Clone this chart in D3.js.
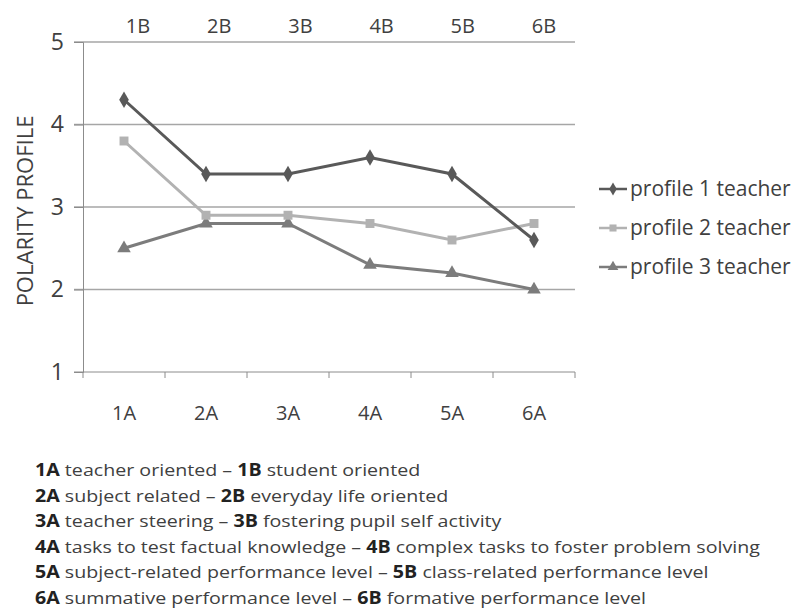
<!DOCTYPE html>
<html>
<head>
<meta charset="utf-8">
<script src="https://cdn.jsdelivr.net/npm/d3@7"></script>
<style>
  body { margin: 0; background: #fff; }
  text { font-family: "Open Sans", sans-serif; fill: #404040; }
</style>
</head>
<body>
<div id="chart"></div>
<script>
const categories = ["1A", "2A", "3A", "4A", "5A", "6A"];
const topLabels = ["1B", "2B", "3B", "4B", "5B", "6B"];
const yTicks = [1, 2, 3, 4, 5];
const profile1 = [4.3, 3.4, 3.4, 3.6, 3.4, 2.6];
const profile2 = [3.8, 2.9, 2.9, 2.8, 2.6, 2.8];
const profile3 = [2.5, 2.8, 2.8, 2.3, 2.2, 2.0];
const seriesNames = ["profile 1 teacher", "profile 2 teacher", "profile 3 teacher"];
const notes = [
  ["1A", " teacher oriented \u2013 ", "1B", " student oriented"],
  ["2A", " subject related \u2013 ", "2B", " everyday life oriented"],
  ["3A", " teacher steering \u2013 ", "3B", " fostering pupil self activity"],
  ["4A", " tasks to test factual knowledge \u2013 ", "4B", " complex tasks to foster problem solving"],
  ["5A", " subject-related  performance  level \u2013 ", "5B", " class-related  performance  level"],
  ["6A", " summative performance  level \u2013 ", "6B", " formative performance  level"]
];

const width = 803, height = 613;
const margin = {top: 42, right: 228, bottom: 241, left: 83};

const svg = d3.select("#chart").append("svg")
  .attr("width", width)
  .attr("height", height);

const x = d3.scaleBand()
  .domain(categories)
  .range([margin.left, width - margin.right]);

const y = d3.scaleLinear()
  .domain([1, 5])
  .range([height - margin.bottom, margin.top]);

const xTop = d3.scalePoint()
  .domain(topLabels)
  .range([138, 544]);

// gridlines
svg.append("g")
  .selectAll("line")
  .data(yTicks.filter(d => d > 1))
  .join("line")
    .attr("x1", margin.left - 9)
    .attr("x2", width - margin.right)
    .attr("y1", d => y(d))
    .attr("y2", d => y(d))
    .attr("stroke", "#a6a6a6")
    .attr("stroke-width", 1.3);

// y axis
const yAxis = svg.append("g")
  .attr("transform", `translate(${margin.left},0)`)
  .call(d3.axisLeft(y).tickValues(yTicks).tickFormat(d3.format("d")).tickSize(9).tickPadding(10));
yAxis.select(".domain").attr("stroke", "#8c8c8c");
yAxis.selectAll(".tick line").attr("stroke", "#8c8c8c");
yAxis.selectAll("text").style("font-size", "23px").attr("fill", "#404040");

// x axis with ticks between categories
const xAxis = svg.append("g")
  .attr("transform", `translate(0,${y(1)})`);
xAxis.append("line")
  .attr("x1", x.range()[0] - 9).attr("x2", x.range()[1])
  .attr("stroke", "#8c8c8c");
xAxis.selectAll(".tk")
  .data(categories.concat(["end"]))
  .join("line")
    .attr("class", "tk")
    .attr("x1", (d, i) => x.range()[0] + i * x.step())
    .attr("x2", (d, i) => x.range()[0] + i * x.step())
    .attr("y1", 0).attr("y2", 6)
    .attr("stroke", "#8c8c8c");
xAxis.selectAll("text")
  .data(categories)
  .join("text")
    .attr("x", d => x(d) + x.bandwidth() / 2)
    .attr("y", 48)
    .attr("text-anchor", "middle")
    .style("font-size", "20px")
    .text(d => d);

// top labels
svg.append("g")
  .selectAll("text")
  .data(topLabels)
  .join("text")
    .attr("x", d => xTop(d))
    .attr("y", 33)
    .attr("text-anchor", "middle")
    .style("font-size", "20px")
    .text(d => d);

// y title
svg.append("text")
  .attr("transform", `translate(33,${(y(1) + y(5)) / 2 + 4}) rotate(-90)`)
  .attr("text-anchor", "middle")
  .style("font-size", "22px")
  .text("POLARITY PROFILE");

const series = [
  {name: seriesNames[0], values: profile1, color: "#595959", symbol: d3.symbolDiamond, size: 80},
  {name: seriesNames[1], values: profile2, color: "#b2b2b2", symbol: d3.symbolSquare, size: 80},
  {name: seriesNames[2], values: profile3, color: "#7c7c7c", symbol: d3.symbolTriangle, size: 80}
];

const line = d3.line()
  .x((d, i) => x(categories[i]) + x.bandwidth() / 2)
  .y(d => y(d));

const g = svg.append("g");
series.slice().reverse().forEach(s => {
  g.append("path")
    .datum(s.values)
    .attr("fill", "none")
    .attr("stroke", s.color)
    .attr("stroke-width", 3)
    .attr("d", line);
  g.selectAll(null)
    .data(s.values)
    .join("path")
      .attr("transform", (d, i) => `translate(${x(categories[i]) + x.bandwidth() / 2},${y(d)})`)
      .attr("d", d3.symbol().type(s.symbol).size(s.size))
      .attr("fill", s.color);
});

// legend
const legend = svg.append("g");
series.forEach((s, i) => {
  const ly = 189 + i * 39;
  legend.append("line")
    .attr("x1", 599).attr("x2", 627)
    .attr("y1", ly).attr("y2", ly)
    .attr("stroke", s.color).attr("stroke-width", 2.5);
  legend.append("path")
    .attr("transform", `translate(613,${ly})`)
    .attr("d", d3.symbol().type(s.symbol).size(50))
    .attr("fill", s.color);
  legend.append("text")
    .attr("x", 630).attr("y", ly + 7)
    .style("font-size", "21px")
    .text(s.name);
});

// notes below chart
const noteG = svg.append("g");
notes.forEach((n, i) => {
  const t = noteG.append("text")
    .attr("x", 35)
    .attr("y", 476 + i * 25.6)
    .style("font-size", "17px");
  n.forEach((part, j) => {
    t.append("tspan")
      .attr("font-weight", j % 2 === 0 ? "bold" : "normal")
      .attr("fill", j % 2 === 0 ? "#222" : "#404040")
      .text(part);
  });
});
// squeeze notes to the reference width (line 4 spans ~725px)
const widest = noteG.selectAll("text").nodes()[3].getComputedTextLength();
noteG.attr("transform", `translate(35,0) scale(${725 / widest},1) translate(-35,0)`);
</script>
</body>
</html>
